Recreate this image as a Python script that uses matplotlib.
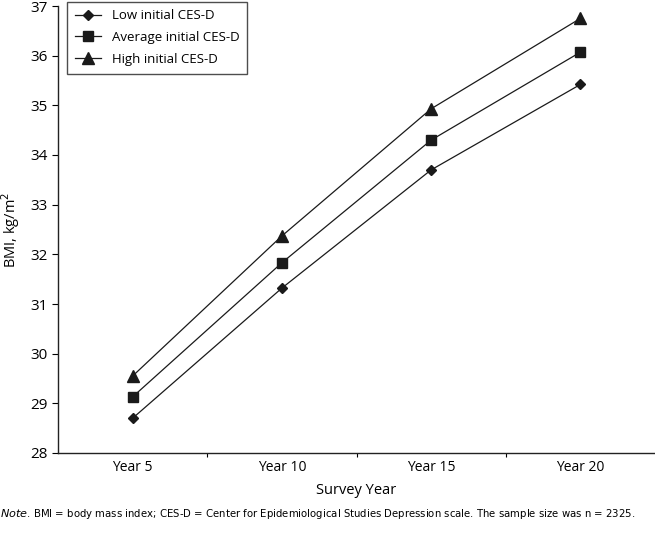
import matplotlib.pyplot as plt

years = ['Year 5', 'Year 10', 'Year 15', 'Year 20']
low_cesd = [28.70, 31.32, 33.70, 35.42]
avg_cesd = [29.13, 31.83, 34.30, 36.07]
high_cesd = [29.55, 32.37, 34.93, 36.75]

plt.rcParams['font.family'] = ['Open Sans', 'DejaVu Sans']

fig = plt.figure(figsize=(6.55, 5.33), dpi=100)
ax = fig.add_axes([58 / 655, 1 - 453 / 533, 1 - 58 / 655, (453 - 6) / 533])

x = range(len(years))
ax.plot(x, low_cesd, color='#1a1a1a', lw=0.9, marker='D', ms=5.5, label='Low initial CES-D')
ax.plot(x, avg_cesd, color='#1a1a1a', lw=0.9, marker='s', ms=7, label='Average initial CES-D')
ax.plot(x, high_cesd, color='#1a1a1a', lw=0.9, marker='^', ms=8, label='High initial CES-D')

ax.set_xlim(-0.5, 3.5)
ax.set_ylim(28, 37)
ax.set_yticks(range(28, 38))
ax.set_xticks([0.5, 1.5, 2.5])
ax.set_xticklabels([])
ax.set_xticks(list(x), years, minor=True)
ax.tick_params(axis='x', which='minor', length=0, labelsize=10, pad=5)
ax.tick_params(axis='x', which='major', length=3, width=0.8, direction='out')
ax.tick_params(axis='y', length=4, width=0.8, labelsize=11)

for side in ['top', 'right']:
    ax.spines[side].set_visible(False)
for side in ['left', 'bottom']:
    ax.spines[side].set_linewidth(1.0)
    ax.spines[side].set_color('#222222')

ax.set_xlabel('Survey Year', fontsize=10.5, labelpad=6)
ax.set_ylabel('BMI, kg/m$^2$', fontsize=10.5, labelpad=6)

leg = ax.legend(loc='upper left', bbox_to_anchor=(0.015, 1.01), borderaxespad=0,
                fontsize=9.5, frameon=True, fancybox=False, edgecolor='#222222',
                handlelength=2.0, borderpad=0.6, labelspacing=0.65)
leg.get_frame().set_linewidth(1.0)

fig.text(0.0, 1 - 514 / 533, '$\\it{Note}$. BMI = body mass index; CES-D = Center for Epidemiological '
         'Studies Depression scale. The sample size was n = 2325.',
         fontsize=8.15, family='DejaVu Sans', stretch='condensed', va='center', ha='left')

fig.savefig('out.png', dpi=100)
